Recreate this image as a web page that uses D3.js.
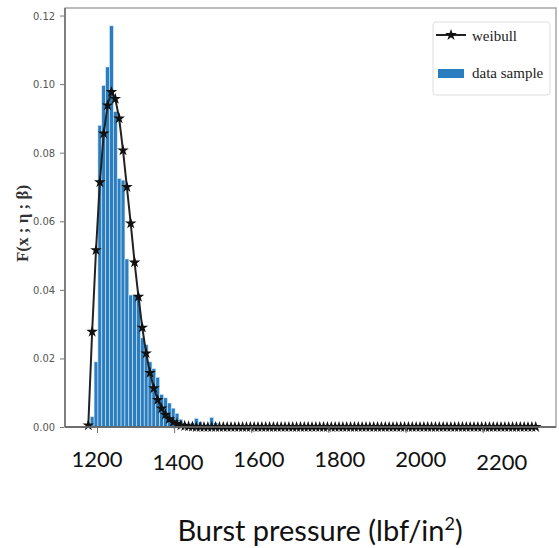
<!DOCTYPE html>
<html><head><meta charset="utf-8">
<script src="https://cdn.jsdelivr.net/npm/d3@7/dist/d3.min.js"></script>
<style>body{margin:0;background:#fff}svg{display:block}</style>
</head><body>
<script>
// ---- data ----
const binStart = 1172.4;   // first histogram bin edge (lbf/in^2)
const binWidth = 10;       // bin width (lbf/in^2)
const histDensity = [
 0.0008,0.003,0.019,0.088,0.0996,0.105,0.117,0.092,0.0725,0.072,
 0.049,0.0385,0.0385,0.038,0.026,0.024,0.019,0.017,0.0145,0.0095,
 0.0085,0.007,0.0055,0.004,0.0022,0.001,0.0005,0.0012,0.0025,0.0015,
 0.0005,0.0008,0.0028,0.0012,0.0003,0,0.0004,0,0,0.0003,
 0,0,0,0,0.0003,0,0,0,0,0,
 0,0.0003,0,0,0,0,0,0,0,0,
 0,0,0.0003,0,0,0,0,0,0,0,
 0,0,0,0,0,0,0,0,0,0,
 0,0,0,0,0,0,0,0,0,0,
 0,0,0,0,0,0,0,0,0,0,
 0,0,0,0,0,0,0,0,0,0,
 0,0,0,0,0,0,0
];
const weibullPdf = [
 0.0005,0.0278,0.0516,0.0714,0.0856,0.0938,0.0977,0.0957,0.090,0.0807,
 0.070,0.0594,0.048,0.038,0.029,0.0215,0.0158,0.0113,0.0079,0.0054,
 0.0036,0.0023,0.0014,0.0009,0.0005,0.0003,0.0002,0.0001,0,0,
 0,0,0,0,0,0,0,0,0,0,
 0,0,0,0,0,0,0,0,0,0,
 0,0,0,0,0,0,0,0,0,0,
 0,0,0,0,0,0,0,0,0,0,
 0,0,0,0,0,0,0,0,0,0,
 0,0,0,0,0,0,0,0,0,0,
 0,0,0,0,0,0,0,0,0,0,
 0,0,0,0,0,0,0,0,0,0,
 0,0,0,0,0,0,0
];
const xTicks = [1200, 1400, 1600, 1800, 2000, 2200];
const yTicks = [0, 0.02, 0.04, 0.06, 0.08, 0.10, 0.12];
const xTitle = "Burst pressure (lbf/in";
const xTitleSup = "2";
const yTitle = "F(x ; η ; β)";
const legendLabels = ["weibull", "data sample"];

// ---- layout ----
const W = 559, H = 548;
const m = {left: 65, right: 3, top: 8, bottom: 121};
const svg = d3.select("body").append("svg").attr("width", W).attr("height", H);

const x = d3.scaleLinear().domain([1117, 2390]).range([m.left, W - m.right]);
const y = d3.scaleLinear().domain([0, 0.1222]).range([H - m.bottom, m.top]);

const blue = "#2a7dbf";

// bars
const bins = histDensity.map((v, i) => ({x0: binStart + i * binWidth, x1: binStart + (i + 1) * binWidth, v}));
svg.append("g").selectAll("rect").data(bins.filter(d => d.v > 0)).join("rect")
  .attr("x", d => x(d.x0))
  .attr("width", d => x(d.x1) - x(d.x0))
  .attr("y", d => y(d.v))
  .attr("height", d => y(0) - y(d.v))
  .attr("fill", blue)
  .attr("stroke", "#d6e8f5")
  .attr("stroke-width", 0.6);

// weibull curve
const pts = weibullPdf.map((v, i) => ({c: binStart + (i + 0.5) * binWidth, v}));
svg.append("path").datum(pts)
  .attr("d", d3.line().x(d => x(d.c)).y(d => y(d.v)))
  .attr("fill", "none").attr("stroke", "#222").attr("stroke-width", 2);
const star = d3.symbol().type(d3.symbolStar).size(42);
svg.append("g").selectAll("path").data(pts).join("path")
  .attr("transform", d => `translate(${x(d.c)},${y(d.v)})`)
  .attr("d", star).attr("fill", "#111");

// frame
svg.append("rect")
  .attr("x", m.left).attr("y", m.top)
  .attr("width", W - m.right - m.left).attr("height", H - m.bottom - m.top)
  .attr("fill", "none").attr("stroke", "#a0a0a0").attr("stroke-width", 1.4);
svg.append("line").attr("x1", m.left).attr("x2", m.left).attr("y1", m.top).attr("y2", y(0))
  .attr("stroke", "#666").attr("stroke-width", 1.4);
svg.append("line").attr("x1", m.left).attr("x2", W - m.right).attr("y1", y(0)).attr("y2", y(0))
  .attr("stroke", "#555").attr("stroke-width", 1.6);

// y axis
const yAxis = svg.append("g").attr("transform", `translate(${m.left - 1},0)`)
  .call(d3.axisLeft(y).tickValues(yTicks).tickFormat(d3.format(".2f")).tickSize(4).tickPadding(5));
yAxis.select(".domain").remove();
yAxis.selectAll("line").attr("stroke", "#777");
yAxis.selectAll("text").attr("font-family", "'Liberation Sans Narrow','DejaVu Sans Condensed',sans-serif")
  .attr("font-size", 11).attr("fill", "#555");

// x axis ticks (no default labels)
const xAxis = svg.append("g").attr("transform", `translate(0,${y(0) + 1})`)
  .call(d3.axisBottom(x).tickValues(xTicks).tickSize(5).tickFormat(""));
xAxis.select(".domain").remove();
xAxis.selectAll("line").attr("stroke", "#777");

// large x labels
svg.append("g").selectAll("text").data(xTicks).join("text")
  .attr("x", d => x(d) + (d - 1200) * 0.019)
  .attr("y", (d, i) => y(0) + (i % 2 === 1 && i !== 3 ? 43 : 40))
  .attr("text-anchor", "middle")
  .attr("font-family", "Lato, 'Open Sans', sans-serif")
  .attr("font-size", 22).attr("fill", "#111")
  .text(d => d);

// x title
const t = svg.append("text").attr("x", 320).attr("y", 541).attr("text-anchor", "middle")
  .attr("font-family", "Lato, 'Open Sans', sans-serif").attr("font-size", 29).attr("fill", "#111");
t.append("tspan").text(xTitle);
t.append("tspan").attr("dy", -11).attr("font-size", 18).text(xTitleSup);
t.append("tspan").attr("dy", 11).text(")");

// y title
svg.append("text")
  .attr("transform", `translate(28,${(m.top + y(0)) / 2 + 6}) rotate(-90)`)
  .attr("text-anchor", "middle")
  .attr("font-family", "'Liberation Serif','DejaVu Serif',serif")
  .attr("font-weight", "bold").attr("font-size", 17).attr("fill", "#333")
  .text(yTitle);

// legend
const lg = svg.append("g");
lg.append("rect").attr("x", 433).attr("y", 22).attr("width", 117).attr("height", 73).attr("rx", 3)
  .attr("fill", "#fff").attr("stroke", "#ddd").attr("stroke-width", 1);
lg.append("line").attr("x1", 436).attr("x2", 466).attr("y1", 35).attr("y2", 35)
  .attr("stroke", "#222").attr("stroke-width", 2);
lg.append("path").attr("transform", "translate(451,35)").attr("d", star).attr("fill", "#111");
lg.append("rect").attr("x", 438).attr("y", 69).attr("width", 26).attr("height", 9).attr("fill", blue);
lg.selectAll("text.l").data(legendLabels).join("text")
  .attr("x", 472).attr("y", (d, i) => 41 + i * 37)
  .attr("font-family", "'Liberation Serif','DejaVu Serif',serif")
  .attr("font-size", 15).attr("fill", "#222")
  .text(d => d);
</script>
</body></html>
